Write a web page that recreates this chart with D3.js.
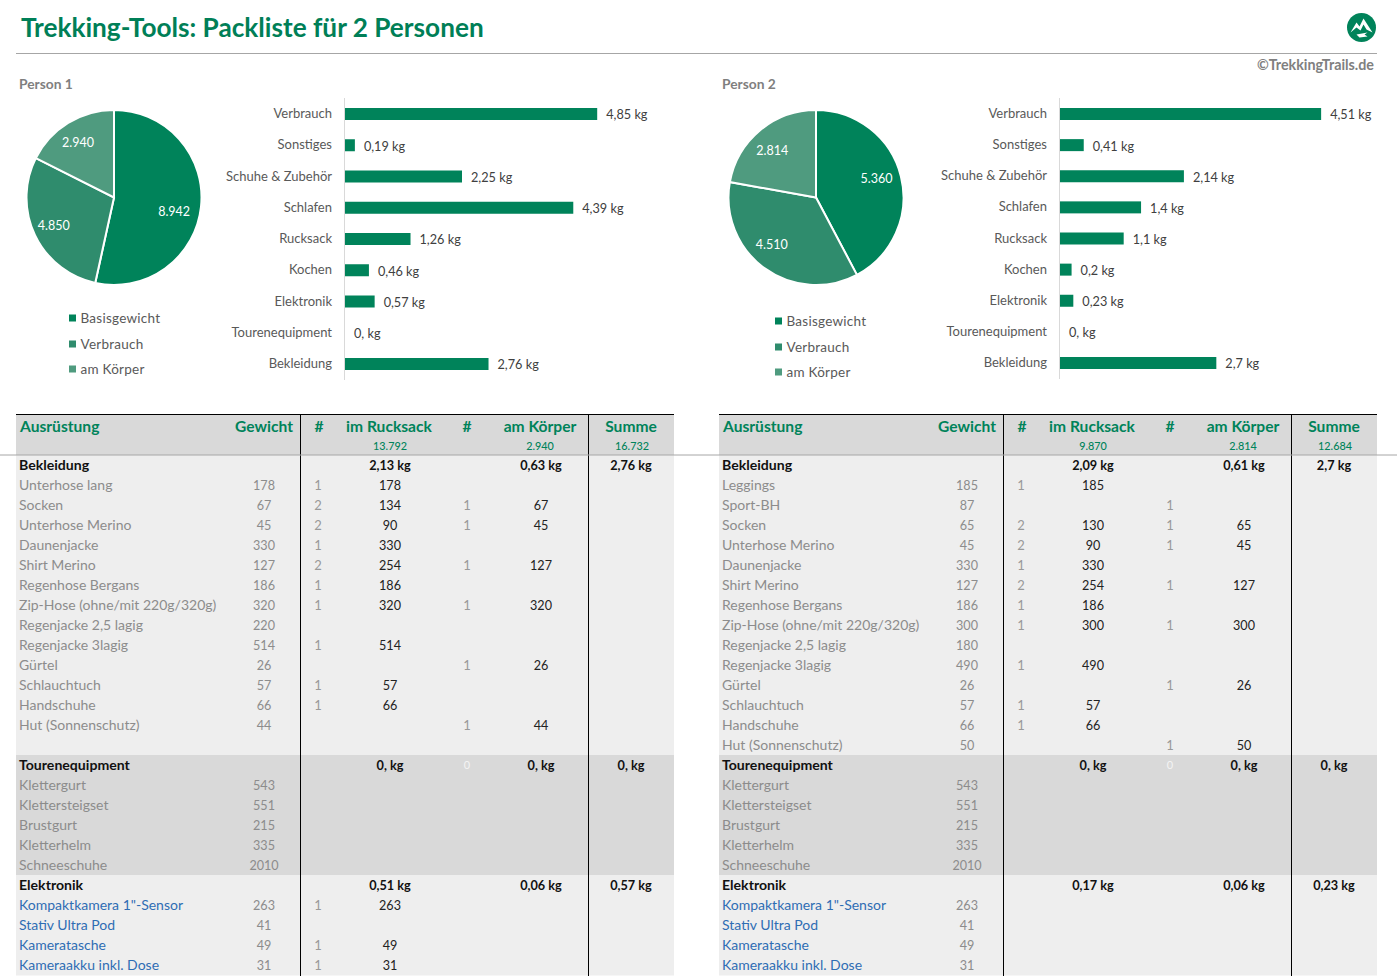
<!DOCTYPE html>
<html lang="de">
<head>
<meta charset="utf-8">
<title>Packliste</title>
<script src="https://cdn.jsdelivr.net/npm/d3@7"></script>
<style>
  html, body { margin: 0; padding: 0; background: #fff; overflow: hidden; }
  svg { display: block; }
  text { font-family: Lato, "Open Sans", sans-serif; }
</style>
</head>
<body>
<div id="chart"></div>
<script>
const pieLabels = ['Basisgewicht', 'Verbrauch', 'am Körper'];
const pieValues1 = [8942, 4850, 2940];
const pieValues2 = [5360, 4510, 2814];

const barLabels = ['Verbrauch', 'Sonstiges', 'Schuhe & Zubehör', 'Schlafen', 'Rucksack', 'Kochen', 'Elektronik', 'Tourenequipment', 'Bekleidung'];
const barValues1 = [4.85, 0.19, 2.25, 4.39, 1.26, 0.46, 0.57, 0, 2.76];
const barValues2 = [4.51, 0.41, 2.14, 1.4, 1.1, 0.2, 0.23, 0, 2.7];

const headerTotals1 = [13792, 2940, 16732];
const headerTotals2 = [9870, 2814, 12684];

// section rows: name, im Rucksack, am Koerper, Summe
const clothingSum1 = ['Bekleidung', 2.13, 0.63, 2.76];
const clothingSum2 = ['Bekleidung', 2.09, 0.61, 2.7];
const touringSum = ['Tourenequipment', 0, 0, 0];
const electronicsSum1 = ['Elektronik', 0.51, 0.06, 0.57];
const electronicsSum2 = ['Elektronik', 0.17, 0.06, 0.23];

// item rows: name, Gewicht, #, im Rucksack, #, am Koerper
const clothing1 = [
  ['Unterhose lang', 178, 1, 178, null, null],
  ['Socken', 67, 2, 134, 1, 67],
  ['Unterhose Merino', 45, 2, 90, 1, 45],
  ['Daunenjacke', 330, 1, 330, null, null],
  ['Shirt Merino', 127, 2, 254, 1, 127],
  ['Regenhose Bergans', 186, 1, 186, null, null],
  ['Zip-Hose (ohne/mit 220g/320g)', 320, 1, 320, 1, 320],
  ['Regenjacke 2,5 lagig', 220, null, null, null, null],
  ['Regenjacke 3lagig', 514, 1, 514, null, null],
  ['Gürtel', 26, null, null, 1, 26],
  ['Schlauchtuch', 57, 1, 57, null, null],
  ['Handschuhe', 66, 1, 66, null, null],
  ['Hut (Sonnenschutz)', 44, null, null, 1, 44],
  ['', null, null, null, null, null],
];
const clothing2 = [
  ['Leggings', 185, 1, 185, null, null],
  ['Sport-BH', 87, null, null, 1, null],
  ['Socken', 65, 2, 130, 1, 65],
  ['Unterhose Merino', 45, 2, 90, 1, 45],
  ['Daunenjacke', 330, 1, 330, null, null],
  ['Shirt Merino', 127, 2, 254, 1, 127],
  ['Regenhose Bergans', 186, 1, 186, null, null],
  ['Zip-Hose (ohne/mit 220g/320g)', 300, 1, 300, 1, 300],
  ['Regenjacke 2,5 lagig', 180, null, null, null, null],
  ['Regenjacke 3lagig', 490, 1, 490, null, null],
  ['Gürtel', 26, null, null, 1, 26],
  ['Schlauchtuch', 57, 1, 57, null, null],
  ['Handschuhe', 66, 1, 66, null, null],
  ['Hut (Sonnenschutz)', 50, null, null, 1, 50],
];
const touring = [
  ['Klettergurt', 543, null, null, null, null],
  ['Klettersteigset', 551, null, null, null, null],
  ['Brustgurt', 215, null, null, null, null],
  ['Kletterhelm', 335, null, null, null, null],
  ['Schneeschuhe', 2010, null, null, null, null],
];
const electronics1 = [
  ['Kompaktkamera 1"-Sensor', 263, 1, 263, null, null],
  ['Stativ Ultra Pod', 41, null, null, null, null],
  ['Kameratasche', 49, 1, 49, null, null],
  ['Kameraakku inkl. Dose', 31, 1, 31, null, null],
];
const electronics2 = [
  ['Kompaktkamera 1"-Sensor', 263, null, null, null, null],
  ['Stativ Ultra Pod', 41, null, null, null, null],
  ['Kameratasche', 49, null, null, null, null],
  ['Kameraakku inkl. Dose', 31, null, null, null, null],
];

const GREEN = '#00835a';
const pieColors = d3.scaleOrdinal().domain(pieLabels).range([GREEN, '#2f8c6d', '#4f9b7f']);
const de = d3.formatLocale({ decimal: ',', thousands: '.', grouping: [3], currency: ['', ''] });
const thousands = de.format(',d');

function kg(v) {
  return v === 0 ? '0, kg' : String(v).replace('.', ',') + ' kg';
}

const svg = d3.select('#chart').append('svg').attr('width', 1397).attr('height', 976);

function label(g, x, y, text, opts = {}) {
  return g.append('text')
    .attr('x', x)
    .attr('y', y)
    .attr('dy', '0.35em')
    .attr('text-anchor', opts.anchor || 'start')
    .attr('font-size', opts.size || 14)
    .attr('font-weight', opts.weight || 400)
    .attr('fill', opts.color || '#595959')
    .attr('letter-spacing', opts.spacing || null)
    .text(text);
}

function drawPie(g, values, cx, cy, legendX, legendYs, labelNudges) {
  const radius = 87.5;
  const pie = d3.pie().sort(null)(values);
  const arc = d3.arc().innerRadius(0).outerRadius(radius);
  const labelArc = d3.arc().innerRadius(65).outerRadius(65);
  const pieG = g.append('g').attr('transform', `translate(${cx},${cy})`);

  pieG.selectAll('path')
    .data(pie)
    .join('path')
    .attr('d', arc)
    .attr('fill', (d, i) => pieColors(pieLabels[i]))
    .attr('stroke', '#fff')
    .attr('stroke-width', 2);

  pie.forEach((d, i) => {
    const [x, y] = labelArc.centroid(d);
    // the spreadsheet places its labels a little off the centroid
    label(pieG, x + labelNudges[i][0], y + labelNudges[i][1], thousands(d.value), { anchor: 'middle', size: 12.5, color: '#fff' });
  });

  pieLabels.forEach((name, i) => {
    g.append('rect')
      .attr('x', legendX)
      .attr('y', legendYs[i] - 3.5)
      .attr('width', 7)
      .attr('height', 7)
      .attr('fill', pieColors(name));
    label(g, legendX + 11.5, legendYs[i], name, { size: 13.5, spacing: '0.25px' });
  });
}

function drawBars(g, values, x0, perKg, topY, bottomY) {
  const xScale = d3.scaleLinear().domain([0, 1]).range([x0, x0 + perKg]);
  const yScale = d3.scalePoint().domain(barLabels).range([topY, bottomY]);

  g.append('line')
    .attr('x1', x0 - 0.5).attr('x2', x0 - 0.5)
    .attr('y1', topY - 16).attr('y2', bottomY + 16)
    .attr('stroke', '#d9d9d9');

  g.selectAll('rect.bar')
    .data(values)
    .join('rect')
    .attr('class', 'bar')
    .attr('x', x0)
    .attr('y', (d, i) => yScale(barLabels[i]) - 6)
    .attr('width', (d) => xScale(d) - x0)
    .attr('height', 12)
    .attr('fill', GREEN);

  values.forEach((v, i) => {
    const y = yScale(barLabels[i]);
    label(g, x0 - 13, y - 0.5, barLabels[i], { anchor: 'end', size: 13 });
    label(g, xScale(v) + 9, y + 1, kg(v), { size: 12.7, color: '#404040' });
  });
}

function drawTable(g, left, rows, totals) {
  const columns = {
    name: left + 3,
    weight: left + 248,
    count1: left + 302,
    pack: left + 374,
    count2: left + 451,
    body: left + 525,
    sum: left + 615,
  };
  const line1 = left + 284.5;
  const line2 = left + 572.5;
  const rowY = d3.scaleLinear().domain([0, 1]).range([465, 485]);

  g.append('rect')
    .attr('x', left).attr('y', 414)
    .attr('width', 658).attr('height', 41)
    .attr('fill', '#d9d9d9');

  rows.forEach((row, i) => {
    g.append('rect')
      .attr('x', left).attr('y', rowY(i) - 10)
      .attr('width', 658).attr('height', 20.5)
      .attr('fill', row.touring ? '#d9d9d9' : '#eeeeee');
  });

  g.append('line')
    .attr('x1', left).attr('x2', left + 658)
    .attr('y1', 414.5).attr('y2', 414.5)
    .attr('stroke', '#000');

  [line1, line2].forEach((x) => {
    g.append('line')
      .attr('x1', x).attr('x2', x)
      .attr('y1', 414).attr('y2', 976)
      .attr('stroke', '#000');
  });

  const head = { size: 15.6, weight: 700, color: GREEN };
  label(g, left + 4, 427, 'Ausrüstung', head);
  label(g, left + 277, 427, 'Gewicht', { ...head, anchor: 'end' });
  label(g, columns.count1 + 1, 427, '#', { ...head, anchor: 'middle' });
  label(g, columns.pack - 1, 427, 'im Rucksack', { ...head, anchor: 'middle' });
  label(g, columns.count2, 427, '#', { ...head, anchor: 'middle' });
  label(g, columns.body - 1, 427, 'am Körper', { ...head, anchor: 'middle' });
  label(g, columns.sum, 427, 'Summe', { ...head, anchor: 'middle' });

  [columns.pack, columns.body - 1, columns.sum + 1].forEach((x, i) => {
    label(g, x, 446, thousands(totals[i]), { anchor: 'middle', size: 10.8, weight: 500, color: GREEN });
  });

  rows.forEach((row, i) => {
    const y = rowY(i);
    const numY = y + 0.6;
    if (row.section) {
      const bold = { weight: 700, color: '#111', size: 12.7 };
      label(g, columns.name, y + 0.3, row.values[0], { ...bold, size: 14.1 });
      label(g, columns.pack, numY, kg(row.values[1]), { ...bold, anchor: 'middle' });
      label(g, columns.body, numY, kg(row.values[2]), { ...bold, anchor: 'middle' });
      label(g, columns.sum, numY, kg(row.values[3]), { ...bold, anchor: 'middle' });
      if (row.touring) {
        label(g, columns.count2, numY, '0', { anchor: 'middle', color: '#f4f4f4', size: 11 });
      }
      return;
    }
    const [name, weight, n1, pack, n2, body] = row.values;
    label(g, columns.name, y, name, { color: row.link ? '#2e6db4' : '#8c8c8c', size: 14 });
    if (weight !== null) label(g, columns.weight, numY, weight, { anchor: 'middle', color: '#8c8c8c', size: 12.6 });
    if (n1 !== null) label(g, columns.count1, numY, n1, { anchor: 'middle', color: '#999', size: 13 });
    if (pack !== null) label(g, columns.pack, numY, pack, { anchor: 'middle', color: '#222', size: 12.6 });
    if (n2 !== null) label(g, columns.count2, numY, n2, { anchor: 'middle', color: '#999', size: 13 });
    if (body !== null) label(g, columns.body, numY, body, { anchor: 'middle', color: '#222', size: 12.6 });
  });
}

function buildRows(clothingSum, clothing, electronicsSum, electronics) {
  return [
    { section: true, values: clothingSum },
    ...clothing.map((values) => ({ values })),
    { section: true, touring: true, values: touringSum },
    ...touring.map((values) => ({ touring: true, values })),
    { section: true, values: electronicsSum },
    ...electronics.map((values) => ({ link: true, values })),
  ];
}

// page head
label(svg, 21, 27.5, 'Trekking-Tools: Packliste für 2 Personen', { size: 26.2, weight: 700, color: '#007f57' });
svg.append('line').attr('x1', 16).attr('x2', 1377).attr('y1', 53.5).attr('y2', 53.5).attr('stroke', '#a6a6a6');
label(svg, 1374, 64.5, '©TrekkingTrails.de', { anchor: 'end', size: 14.3, weight: 700, color: '#808080' });

const logo = svg.append('g').attr('transform', 'translate(1361.5,27.5)');
logo.append('circle').attr('r', 14.5).attr('fill', GREEN);
logo.append('path')
  .attr('d', 'M-11,5 L-5,-5 L-2,-1 L2,-9 L11,5 L5,2 L2,-3 L-1,3 L-5,0 Z')
  .attr('fill', '#fff');
logo.append('path')
  .attr('d', 'M-5,7 L6,5 L3,7 L6,9 L-2,10 Z')
  .attr('fill', '#fff');

label(svg, 19, 84.5, 'Person 1', { size: 13.8, weight: 700, color: '#7f7f7f' });
label(svg, 722, 84.5, 'Person 2', { size: 13.8, weight: 700, color: '#7f7f7f' });

drawTable(svg.append('g'), 16, buildRows(clothingSum1, clothing1, electronicsSum1, electronics1), headerTotals1);
drawTable(svg.append('g'), 719, buildRows(clothingSum2, clothing2, electronicsSum2, electronics2), headerTotals2);

// grey rule runs across the whole page over both tables
svg.append('line').attr('x1', 0).attr('x2', 1397).attr('y1', 455).attr('y2', 455).attr('stroke', '#a6a6a6');

drawPie(svg.append('g'), pieValues1, 114, 197.5, 69, [318, 344, 369], [[-4.5, 7], [-1.5, 0], [-2, 0]]);
drawPie(svg.append('g'), pieValues2, 816, 197.5, 775, [321, 347, 372], [[-2.5, -3], [-6, -5], [-2, 3]]);
drawBars(svg.append('g'), barValues1, 345, 52, 114, 364);
drawBars(svg.append('g'), barValues2, 1060, 57.9, 114, 363);
</script>
</body>
</html>
